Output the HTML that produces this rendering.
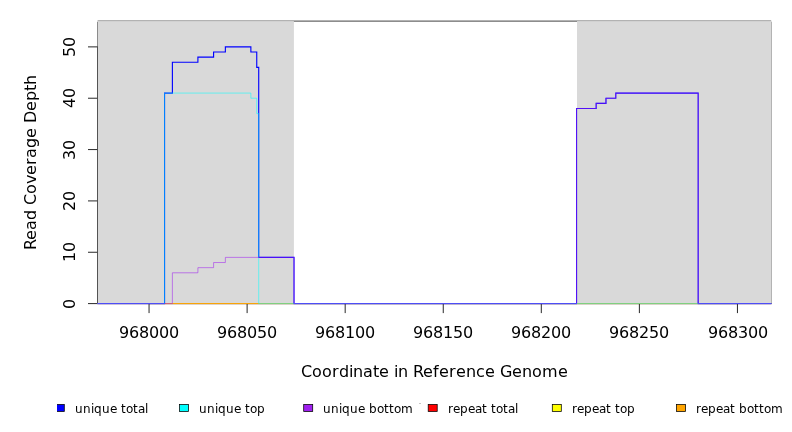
<!DOCTYPE html>
<html lang="en">
<head>
<meta charset="utf-8">
<title>Read Coverage Depth</title>
<style>
html,body{margin:0;padding:0;background:#fff;}
body{width:792px;height:432px;overflow:hidden;}
svg{display:block;}
text{font-family:"DejaVu Sans","Liberation Sans",sans-serif;fill:#000;}
.ax{font-size:16px;}
.lab{font-size:16px;}
.lg{font-size:12px;}
</style>
</head>
<body>
<svg width="792" height="432" viewBox="0 0 792 432">
<rect x="0" y="0" width="792" height="432" fill="#ffffff"/>
<defs><clipPath id="plot"><rect x="97.5" y="20.1" width="674.0" height="284.5"/></clipPath></defs>
<path d="M97.6,21.1 L771.2,21.1" fill="none" stroke="#000" stroke-width="0.75"/>
<path d="M97.5,22.0 L97.5,303.6" fill="none" stroke="#000" stroke-opacity="0.79" stroke-width="0.75"/>
<path d="M771.5,22.0 L771.5,303.6 L97.5,303.6" fill="none" stroke="#000" stroke-width="0.75"/>
<path d="M97.5,303.6 L97.5,46.48" fill="none" stroke="#000" stroke-width="0.75"/>
<path d="M97.8,303.6 L88.0,303.6 M97.8,252.26 L88.0,252.26 M97.8,200.91 L88.0,200.91 M97.8,149.57 L88.0,149.57 M97.8,98.22 L88.0,98.22 M97.8,46.88 L88.0,46.88" fill="none" stroke="#000" stroke-width="0.85"/>
<path d="M149.05,303.6 L737.44,303.6" fill="none" stroke="#000" stroke-width="0.75"/>
<path d="M149.05,303.6 L149.05,313.1 M247.12,303.6 L247.12,313.1 M345.18,303.6 L345.18,313.1 M443.25,303.6 L443.25,313.1 M541.31,303.6 L541.31,313.1 M639.38,303.6 L639.38,313.1 M737.44,303.6 L737.44,313.1" fill="none" stroke="#000" stroke-width="0.85"/>
<rect x="97.7" y="21.1" width="196.2" height="282.5" fill="#d9d9d9"/>
<rect x="577.0" y="21.1" width="194.75" height="282.5" fill="#d9d9d9"/>
<g clip-path="url(#plot)" fill="none" stroke-linejoin="miter" stroke-linecap="butt">
<path d="M89.99,303.6 L776.66,303.6 L776.66,303.6" stroke="#ff0000" stroke-opacity="0.7" stroke-width="1"/>
<path d="M89.99,303.6 L776.66,303.6 L776.66,303.6" stroke="#ffff00" stroke-opacity="0.6" stroke-width="1"/>
<path d="M89.99,303.6 L776.66,303.6 L776.66,303.6" stroke="#ffa500" stroke-opacity="0.7" stroke-width="1"/>
<path d="M89.99,303.6 L164.55,303.6 L164.55,93.09 L172.39,93.09 L172.39,62.28 L197.9,62.28 L197.9,57.14 L213.59,57.14 L213.59,52.01 L225.36,52.01 L225.36,46.88 L250.87,46.88 L250.87,52.01 L256.75,52.01 L256.75,67.41 L258.72,67.41 L258.72,257.39 L294.03,257.39 L294.03,303.6 L576.54,303.6 L576.54,108.49 L596.16,108.49 L596.16,103.35 L605.97,103.35 L605.97,98.22 L615.78,98.22 L615.78,93.09 L698.18,93.09 L698.18,303.6 L776.66,303.6 L776.66,303.6" stroke="#0000ff" stroke-opacity="1" stroke-width="1.125"/>
<path d="M89.99,303.6 L164.55,303.6 L164.55,93.09 L250.87,93.09 L250.87,98.22 L256.75,98.22 L256.75,113.62 L258.72,113.62 L258.72,303.6 L776.66,303.6 L776.66,303.6" stroke="#00ffff" stroke-opacity="0.6" stroke-width="0.9"/>
<path d="M89.99,303.6 L172.39,303.6 L172.39,272.79 L197.9,272.79 L197.9,267.66 L213.59,267.66 L213.59,262.52 L225.36,262.52 L225.36,257.39 L294.03,257.39 L294.03,303.6 L576.54,303.6 L576.54,108.49 L596.16,108.49 L596.16,103.35 L605.97,103.35 L605.97,98.22 L615.78,98.22 L615.78,93.09 L698.18,93.09 L698.18,303.6 L776.66,303.6 L776.66,303.6" stroke="#a020f0" stroke-opacity="0.6" stroke-width="0.9"/>
</g>
<text class="ax" x="119 129 139 149 159 169" y="338.2">968000</text>
<text class="ax" x="217 227 237 247 257 267" y="338.2">968050</text>
<text class="ax" x="315 325 335 345 355 365" y="338.2">968100</text>
<text class="ax" x="413 423 433 443 453 463" y="338.2">968150</text>
<text class="ax" x="511 521 531 541 551 561" y="338.2">968200</text>
<text class="ax" x="609 619 629 639 649 659" y="338.2">968250</text>
<text class="ax" x="708 718 728 738 748 758" y="338.2">968300</text>
<text class="ax" transform="translate(75,309) rotate(-90)" x="0" y="0">0</text>
<text class="ax" transform="translate(75,262) rotate(-90)" x="0 10" y="0">10</text>
<text class="ax" transform="translate(75,211) rotate(-90)" x="0 10" y="0">20</text>
<text class="ax" transform="translate(75,160) rotate(-90)" x="0 10" y="0">30</text>
<text class="ax" transform="translate(75,108) rotate(-90)" x="0 10" y="0">40</text>
<text class="ax" transform="translate(75,57) rotate(-90)" x="0 10" y="0">50</text>
<text class="lab" x="301 312 322 332 339 349 353 363 373 379 389 394 398 408 413 423 433 439 449 456 466 476 485 495 500 512 522 532 542 558" y="376.6">Coordinate in Reference Genome</text>
<text class="lab" transform="translate(36,250) rotate(-90)" x="0 10 20 30 40 45 56 66 75 85 92 102 112 122 127 139 149 159 165" y="0">Read Coverage Depth</text>
<rect x="419" y="403" width="2" height="1" fill="#c6c6c6"/>
<defs><clipPath id="lgclip"><rect x="57" y="400" width="735" height="20"/></clipPath></defs>
<g clip-path="url(#lgclip)" stroke="#000" stroke-width="0.75">
<rect x="55.3" y="404.45" width="9.0" height="7.0" fill="#0000ff"/>
<rect x="179.5" y="404.45" width="9.0" height="7.0" fill="#00ffff"/>
<rect x="303.7" y="404.45" width="9.0" height="7.0" fill="#a020f0"/>
<rect x="428.2" y="404.45" width="9.0" height="7.0" fill="#ff0000"/>
<rect x="552.3" y="404.45" width="9.0" height="7.0" fill="#ffff00"/>
<rect x="676.5" y="404.45" width="9.0" height="7.0" fill="#ffa500"/>
</g>
<text class="lg" x="75 83 91 94 102 110 117 121 126 133 138 145" y="412.5">unique total</text>
<text class="lg" x="199 207 215 218 226 234 241 245 250 257" y="412.5">unique top</text>
<text class="lg" x="323 331 339 342 350 358 365 369 377 384 389 394 401" y="412.5">unique bottom</text>
<text class="lg" x="448 453 460 468 475 482 487 491 496 503 508 515" y="412.5">repeat total</text>
<text class="lg" x="572 577 584 592 599 606 611 615 620 627" y="412.5">repeat top</text>
<text class="lg" x="696 701 708 716 723 730 735 739 747 754 759 764 771" y="412.5">repeat bottom</text>
</svg>
</body>
</html>
